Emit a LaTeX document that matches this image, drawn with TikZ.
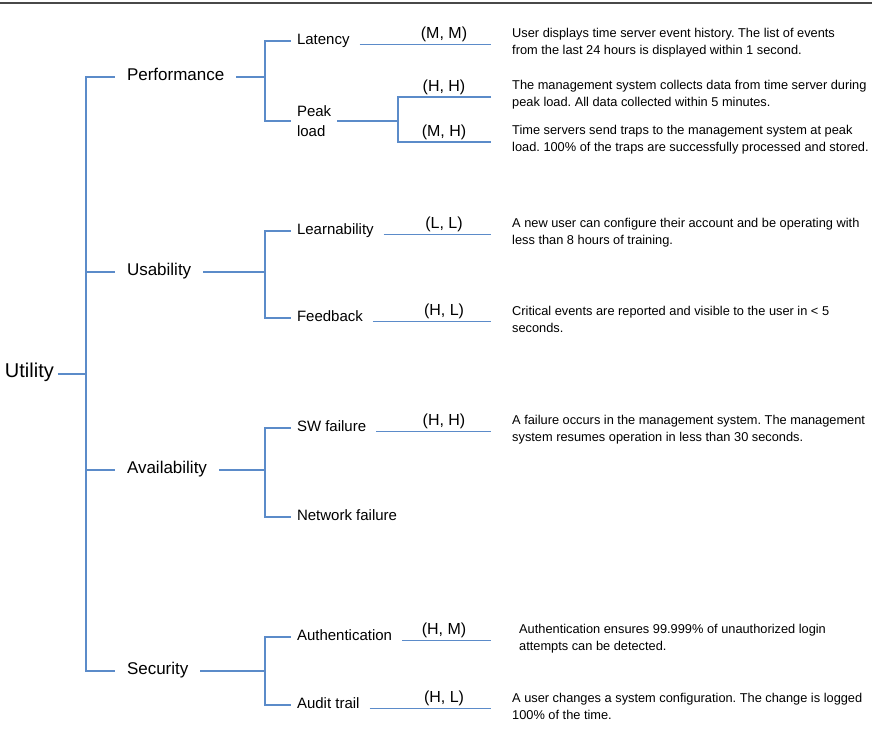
\documentclass[tikz,border=0pt]{standalone}
\usepackage{fontspec}
\setmainfont{Liberation Sans}
\usetikzlibrary{positioning}
\frenchspacing
\definecolor{treeblue}{RGB}{91,139,201}
\definecolor{rulegray}{RGB}{72,72,72}
\tikzset{
    % Root of the utility tree
    root node/.style={font=\fontsize{20}{24}\selectfont, inner sep=0pt, outer xsep=4pt, anchor=west, text height=0.72em, text depth=0pt},
    % Quality attributes (first level)
    attribute/.style={font=\fontsize{17}{20}\selectfont, inner sep=0pt, outer xsep=12pt, anchor=west, text height=0.72em, text depth=0pt},
    % Attribute refinements (second level)
    refinement/.style={font=\fontsize{15}{20}\selectfont, inner sep=0pt, outer xsep=6pt, anchor=west, text height=0.72em, text depth=0pt},
    % Importance / difficulty rating above a leaf line
    rating/.style={font=\fontsize{16}{19}\selectfont, inner sep=0pt, text height=0.72em, text depth=0pt, xshift=-47pt, yshift=9.5pt},
    % Scenario text
    scenario/.style={font=\fontsize{12.8}{17}\selectfont, inner sep=0pt, align=left, yshift=2pt},
    % Tree connectors
    branch/.style={treeblue, line width=1.2pt},
    leaf line/.style={branch, shorten <=4pt},
    % Rule along the top of the page
    top rule/.style={rulegray, line width=1.8pt}
}

\begin{document}
\begin{tikzpicture}[x=1pt, y=-1pt]
    \useasboundingbox (0,0) rectangle (872,737);

    % --- Top rule ---
    \coordinate (ruleL) at (0,3);
    \coordinate (ruleR) at (872,3);
    \draw[top rule] (ruleL) -- (ruleR);

    % --- Root and trunk ---
    \node[root node] (utility) at (1,374) {Utility};
    \coordinate (trunk) at (86,374);
    \draw[branch] (utility) -- (trunk);

    % --- Quality attributes ---
    \node[attribute] (perf)  at (115,77)  {Performance};
    \node[attribute] (usab)  at (115,272) {Usability};
    \node[attribute] (avail) at (115,470) {Availability};
    \node[attribute] (secu)  at (115,671) {Security};
    \foreach \attr in {perf, usab, avail, secu}
        \draw[branch] (trunk) |- (\attr);

    % junctions of the refinements
    \coordinate (jPerf)  at (265,77);
    \coordinate (jUsab)  at (265,272);
    \coordinate (jAvail) at (265,470);
    \coordinate (jSecu)  at (265,671);
    \foreach \attr/\junc in {perf/jPerf, usab/jUsab, avail/jAvail, secu/jSecu}
        \draw[branch] (\attr) -- (\junc);

    % --- Refinements ---
    \node[refinement] (latency)  at (291,41)  {Latency};
    \node[refinement, text height=, text depth=, align=left] (peak) at (291,121) {Peak\\load};
    \node[refinement] (learn)    at (291,231) {Learnability};
    \node[refinement] (feedback) at (291,318) {Feedback};
    \node[refinement] (swfail)   at (291,428) {SW failure};
    \node[refinement] (netfail)  at (291,517) {Network failure};
    \node[refinement] (auth)     at (291,637) {Authentication};
    \node[refinement] (audit)    at (291,705) {Audit trail};
    \foreach \junc/\refi in {jPerf/latency, jPerf/peak, jUsab/learn, jUsab/feedback,
                             jAvail/swfail, jAvail/netfail, jSecu/auth, jSecu/audit}
        \draw[branch] (\junc) |- (\refi);

    % --- Leaf lines ---
    \coordinate (rightEdge) at (491,0);
    \foreach \refi/\leaf in {latency/eLat, learn/eLearn, feedback/eFeed,
                             swfail/eSW, auth/eAuth, audit/eAudit} {
        \coordinate (\leaf) at (\refi.base east -| rightEdge);
        \draw[leaf line] (\refi.base east) -- (\leaf);
    }
    % peak load splits into two scenarios
    \coordinate (jPeak) at (398,121);
    \coordinate (eHH) at (491,97);
    \coordinate (eMH) at (491,142);
    \draw[branch] (peak) -- (jPeak);
    \draw[branch] (eHH) -| (jPeak) |- (eMH);

    % --- Ratings ---
    \node[rating] (rLat)   at (eLat)   {(M, M)};
    \node[rating] (rHH)    at (eHH)    {(H, H)};
    \node[rating] (rMH)    at (eMH)    {(M, H)};
    \node[rating] (rLearn) at (eLearn) {(L, L)};
    \node[rating] (rFeed)  at (eFeed)  {(H, L)};
    \node[rating] (rSW)    at (eSW)    {(H, H)};
    \node[rating] (rAuth)  at (eAuth)  {(H, M)};
    \node[rating] (rAudit) at (eAudit) {(H, L)};

    % --- Scenarios ---
    \node[scenario, right=21pt of eLat] (sLat)
        {User displays time server event history. The list of events\\from the last 24 hours is displayed within 1 second.};
    \node[scenario, right=21pt of eHH] (sHH)
        {The management system collects data from time server during\\peak load. All data collected within 5 minutes.};
    \node[scenario, right=21pt of eMH] (sMH)
        {Time servers send traps to the management system at peak\\load. 100\% of the traps are successfully processed and stored.};
    \node[scenario, right=21pt of eLearn] (sLearn)
        {A new user can configure their account and be operating with\\less than 8 hours of training.};
    \node[scenario, right=21pt of eFeed] (sFeed)
        {Critical events are reported and visible to the user in < 5\\seconds.};
    \node[scenario, right=21pt of eSW] (sSW)
        {A failure occurs in the management system. The management\\system resumes operation in less than 30 seconds.};
    \node[scenario, right=28pt of eAuth] (sAuth)
        {Authentication ensures 99.999\% of unauthorized login\\attempts can be detected.};
    \node[scenario, right=21pt of eAudit] (sAudit)
        {A user changes a system configuration. The change is logged\\100\% of the time.};
\end{tikzpicture}
\end{document}
